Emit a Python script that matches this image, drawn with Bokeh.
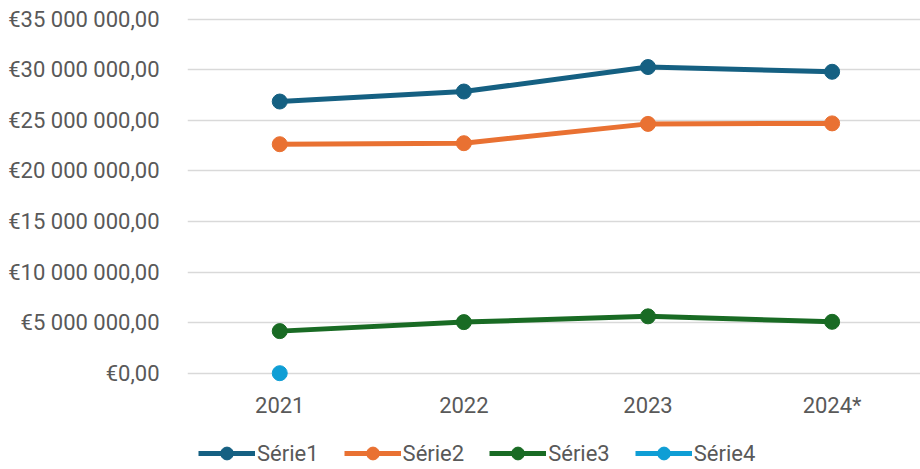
from bokeh.plotting import figure
from bokeh.layouts import column
from bokeh.models import Range1d, FixedTicker, Legend, LegendItem, ColumnDataSource
from bokeh.embed import file_html
from bokeh.resources import INLINE

years = ["2021", "2022", "2023", "2024*"]
xpos = [0, 1, 2, 3]
serie1 = [26.86e6, 27.85e6, 30.27e6, 29.80e6]
serie2 = [22.64e6, 22.74e6, 24.65e6, 24.70e6]
serie3 = [4.16e6, 5.05e6, 5.62e6, 5.08e6]
serie4 = [0.0]
names = ["Série1", "Série2", "Série3", "Série4"]
colors = ["#156082", "#E97132", "#196B24", "#0F9ED5"]
yticks = [0, 5e6, 10e6, 15e6, 20e6, 25e6, 30e6, 35e6]
ytick_labels = ["€0,00", "€5 000 000,00", "€10 000 000,00", "€15 000 000,00",
                "€20 000 000,00", "€25 000 000,00", "€30 000 000,00", "€35 000 000,00"]

FONT = "Roboto"
TXT = "#595959"
FS = "22px"

p = figure(width=920, height=424, output_backend="svg", toolbar_location=None,
           x_range=Range1d(-0.501, 3.48), y_range=Range1d(-1.513e6, 35.267e6),
           min_border_left=187, min_border_right=0, min_border_top=16, min_border_bottom=36)
p.outline_line_color = None

p.xaxis.ticker = FixedTicker(ticks=xpos)
p.xaxis.major_label_overrides = {x: y for x, y in zip(xpos, years)}
p.yaxis.ticker = FixedTicker(ticks=yticks)
p.yaxis.major_label_overrides = {int(t): l for t, l in zip(yticks, ytick_labels)}
for ax in (p.xaxis, p.yaxis):
    ax.axis_line_color = None
    ax.major_tick_line_color = None
    ax.minor_tick_line_color = None
    ax.major_tick_in = 0
    ax.major_tick_out = 0
    ax.major_label_text_font = FONT
    ax.major_label_text_font_size = FS
    ax.major_label_text_color = TXT
p.xaxis.major_label_standoff = 4
p.yaxis.major_label_standoff = 28
p.xgrid.grid_line_color = None
p.ygrid.grid_line_color = "#d9d9d9"
p.ygrid.grid_line_width = 1.5

# legend strip: same series, drawn out of its visible range so only the legend shows
pl = figure(width=920, height=45, output_backend="svg", toolbar_location=None,
            x_axis_type=None, y_axis_type=None,
            x_range=Range1d(-0.501, 3.48), y_range=Range1d(1e9, 2e9),
            min_border_left=0, min_border_right=0, min_border_top=0, min_border_bottom=0)
pl.outline_line_color = None

items = []
for name, vals, col in zip(names, [serie1, serie2, serie3, serie4], colors):
    src = ColumnDataSource(dict(x=xpos[:len(vals)], y=vals))
    p.line("x", "y", source=src, line_color=col, line_width=5)
    p.scatter("x", "y", source=src, size=15, fill_color=col, line_color=col)
    ln = pl.line("x", "y", source=src, line_color=col, line_width=5)
    sc = pl.scatter("x", "y", source=src, size=15, fill_color=col, line_color=col)
    items.append(LegendItem(label=name, renderers=[ln, sc]))

legend = Legend(items=items, orientation="horizontal", location=(11, 0),
                label_text_font=FONT, label_text_font_size=FS, label_text_color=TXT,
                glyph_width=57, glyph_height=32, label_standoff=2, spacing=25,
                padding=2, margin=0, border_line_color=None, background_fill_alpha=0)
pl.add_layout(legend)

layout = column(p, pl, spacing=0)
open("out.html", "w").write(file_html(layout, INLINE))
